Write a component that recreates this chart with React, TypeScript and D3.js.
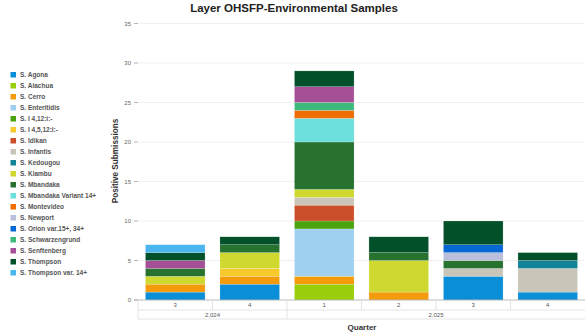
import React from "react";
import * as d3 from "d3";

const quarters = ["3", "4", "1", "2", "3", "4"];
const years = ["2,024", "2,024", "2,025", "2,025", "2,025", "2,025"];
const yTicks = [0, 5, 10, 15, 20, 25, 30, 35];

const seriesNames = [
  "S. Agona", "S. Alachua", "S. Cerro", "S. Enteritidis", "S. I 4,12:i:-",
  "S. I 4,5,12:i:-", "S. Idikan", "S. Infantis", "S. Kedougou", "S. Kiambu",
  "S. Mbandaka", "S. Mbandaka Variant 14+", "S. Montevideo", "S. Newport",
  "S. Orion var.15+, 34+", "S. Schwarzengrund", "S. Senftenberg", "S. Thompson",
  "S. Thompson var. 14+",
];
const seriesColors = [
  "#0a8ed8", "#9acd0a", "#f49b0c", "#9fd0ef", "#4ba20f",
  "#f6ca2a", "#cc4f2b", "#c9c6b9", "#14839a", "#cfd82f",
  "#27722f", "#6cdfdc", "#ef6d03", "#b9bedc",
  "#0669d3", "#3dba7b", "#a54f97", "#03512a",
  "#4bb5ef",
];
const agona = [1, 2, 0, 0, 3, 1];
const alachua = [0, 0, 2, 0, 0, 0];
const cerro = [1, 1, 1, 1, 0, 0];
const enteritidis = [0, 0, 6, 0, 0, 0];
const i412 = [0, 0, 1, 0, 0, 0];
const i4512 = [0, 1, 0, 0, 0, 0];
const idikan = [0, 0, 2, 0, 0, 0];
const infantis = [0, 0, 1, 0, 1, 3];
const kedougou = [0, 0, 0, 0, 0, 1];
const kiambu = [1, 2, 1, 4, 0, 0];
const mbandaka = [1, 1, 6, 1, 1, 0];
const mbandakaVar = [0, 0, 3, 0, 0, 0];
const montevideo = [0, 0, 1, 0, 0, 0];
const newport = [0, 0, 0, 0, 1, 0];
const orion = [0, 0, 0, 0, 1, 0];
const schwarzengrund = [0, 0, 1, 0, 0, 0];
const senftenberg = [1, 0, 2, 0, 0, 0];
const thompson = [1, 1, 2, 2, 3, 1];
const thompsonVar = [1, 0, 0, 0, 0, 0];

const seriesValues = [
  agona, alachua, cerro, enteritidis, i412, i4512, idikan, infantis, kedougou,
  kiambu, mbandaka, mbandakaVar, montevideo, newport, orion, schwarzengrund,
  senftenberg, thompson, thompsonVar,
];

const W = 588, H = 333;
const plotL = 138, plotR = 585, plotT = 23.5, plotB = 300;
const FONT = "'Liberation Sans', Arial, sans-serif";

export default function App() {
  const idx = quarters.map((_, i) => i);
  const x = d3.scaleBand<number>().domain(idx).range([plotL, plotR]).paddingInner(0.2).paddingOuter(0.1);
  const step = x.step();
  const y = d3.scaleLinear().domain([0, 35]).range([plotB, plotT]);

  const table = idx.map((i) => {
    const row: any = { i };
    seriesNames.forEach((n, k) => (row[n] = seriesValues[k][i]));
    return row;
  });
  const stacked = d3.stack<any>().keys(seriesNames)(table);

  const yearGroups: { year: string; start: number; end: number }[] = [];
  years.forEach((yr, i) => {
    const last = yearGroups[yearGroups.length - 1];
    if (last && last.year === yr) last.end = i;
    else yearGroups.push({ year: yr, start: i, end: i });
  });
  const bandLeft = (i: number) => plotL + step * i;

  return (
    <svg width={W} height={H} style={{ position: "absolute", left: 0, top: 0, background: "#fff" }} fontFamily={FONT}>
      <text x={294} y={12} textAnchor="middle" fontSize={11.5} fontWeight="bold" fill="#222">
        Layer OHSFP-Environmental Samples
      </text>

      {yTicks.map((t) => (
        <g key={t}>
          {t > 0 && <line x1={plotL} x2={plotR} y1={y(t)} y2={y(t)} stroke="#ececec" strokeWidth={0.8} />}
          <line x1={134} x2={138} y1={y(t)} y2={y(t)} stroke="#999" strokeWidth={0.7} />
          <text x={131} y={y(t) + 2} textAnchor="end" fontSize={6} fill="#666">{t}</text>
        </g>
      ))}

      <text transform={`translate(118,161) rotate(-90)`} textAnchor="middle" fontSize={8.2} fontWeight="bold" fill="#333">
        Positive Submissions
      </text>

      {stacked.map((s, k) => (
        <g key={seriesNames[k]} fill={seriesColors[k]}>
          {s.map((d, i) =>
            d[1] - d[0] > 0 ? (
              <rect key={i} x={x(i)} width={x.bandwidth()} y={y(d[1])} height={y(d[0]) - y(d[1])} stroke="#ffffff" strokeOpacity={0.35} strokeWidth={0.5} />
            ) : null
          )}
        </g>
      ))}

      <line x1={plotL - 4} x2={plotR} y1={plotB} y2={plotB} stroke="#aaa" strokeWidth={0.8} />
      <line x1={plotL} x2={plotR} y1={310} y2={310} stroke="#ddd" strokeWidth={0.8} />
      <line x1={plotL} x2={plotR} y1={319} y2={319} stroke="#ddd" strokeWidth={0.8} />
      <line x1={plotL} x2={plotL} y1={plotB} y2={319} stroke="#ddd" strokeWidth={0.8} />
      {idx.map((i) => (
        <g key={i}>
          {i > 0 && <line x1={bandLeft(i)} x2={bandLeft(i)} y1={plotB} y2={310} stroke="#ddd" strokeWidth={0.8} />}
          <text x={(x(i) as number) + x.bandwidth() / 2} y={307} textAnchor="middle" fontSize={6} fill="#555">{quarters[i]}</text>
        </g>
      ))}
      {yearGroups.map((g, j) => (
        <g key={g.year}>
          {j > 0 && <line x1={bandLeft(g.start)} x2={bandLeft(g.start)} y1={310} y2={319} stroke="#ddd" strokeWidth={0.8} />}
          <text x={(bandLeft(g.start) + bandLeft(g.end + 1)) / 2} y={316.5} textAnchor="middle" fontSize={6} fill="#555">{g.year}</text>
        </g>
      ))}
      <text x={362} y={330} textAnchor="middle" fontSize={8} fontWeight="bold" fill="#333">Quarter</text>

      {seriesNames.map((n, k) => (
        <g key={n} transform={`translate(0,${75 + k * 11})`}>
          <rect x={10.5} y={-3} width={5.5} height={5.5} fill={seriesColors[k]} />
          <text x={20} y={2.3} fontSize={6.5} fontWeight="bold" fill="#555">{n}</text>
        </g>
      ))}
    </svg>
  );
}
